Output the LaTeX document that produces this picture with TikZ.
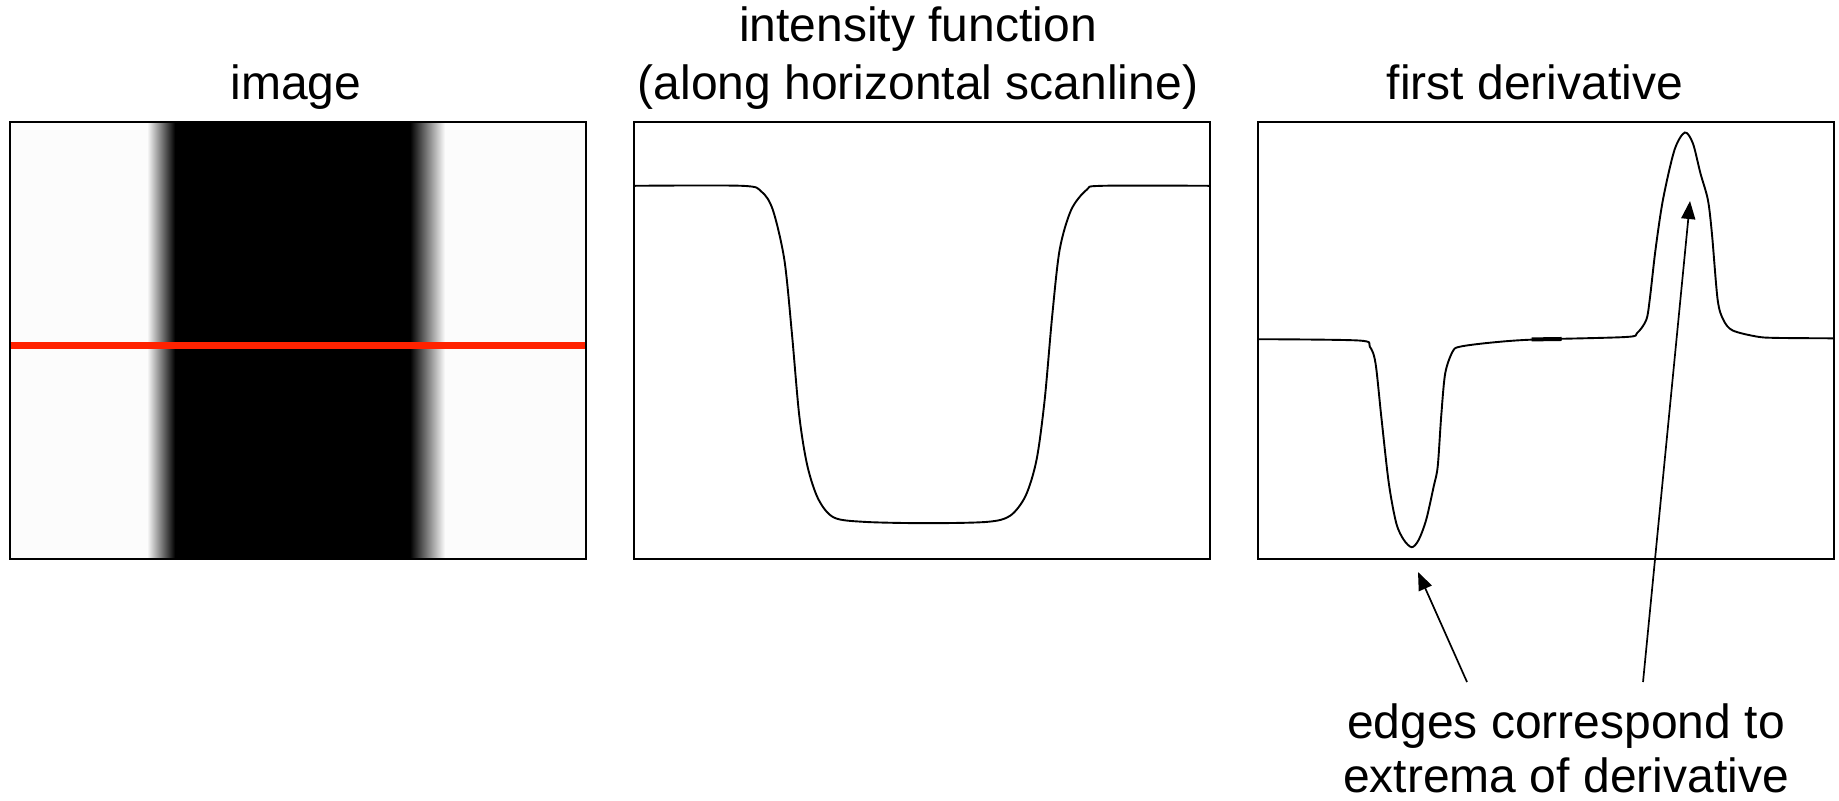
\documentclass[tikz,border=0pt]{standalone}
\usepackage{fontspec}
\setmainfont{Liberation Sans}
\usetikzlibrary{arrows.meta}
\definecolor{scanred}{RGB}{255,34,0}
\begin{document}
\begin{tikzpicture}[x=0.5pt, y=-0.5pt,
    panel/.style={draw=black, line width=1pt},
    curva/.style={line width=0.95pt, smooth, tension=0.5},
    titulo/.style={font=\fontsize{24}{29}\selectfont, anchor=base, inner sep=0pt, align=center},
    flecha/.style={line width=0.85pt, -{Triangle[length=9pt,width=7pt]}}]
    \useasboundingbox (0,0) rectangle (1839,800);

    % ~~~~ Imagen con la barra oscura ~~~~%
    \fill[black!1] (10,122) rectangle (586,559);
    \shade[left color=black!1, right color=black] (147,122) rectangle (175,559);
    \fill[black] (175,122) rectangle (410,559);
    \shade[left color=black, right color=black!1] (410,122) rectangle (445,559);
    \draw[scanred, line width=3.5pt] (10,345.5) -- (586,345.5);
    \draw[panel] (10,122) rectangle (586,559);

    % ~~~~ Funcion de intensidad ~~~~%
    \draw[panel] (634,122) rectangle (1210,559);
    \begin{scope}[shift={(634,122)}, xscale=5.76, yscale=4.37]
        \draw[curva] plot coordinates {(0,14.6) (18.75,14.6) (22.1,15.9) (24.1,20.1)
            (26.1,31.5) (27.4,48.2) (28.7,67.3) (30.1,78.7) (32.0,86.3) (34.7,90.5)
            (40.0,91.5) (50.7,91.8) (61.3,91.5) (65.3,90.1) (68.0,85.5) (69.9,77.2)
            (71.3,63.5) (72.6,44.4) (73.9,29.2) (75.9,20.1) (78.6,15.5) (81.25,14.6) (100,14.6)};
    \end{scope}

    % ~~~~ Primera derivada ~~~~%
    \draw[panel] (1258,122) rectangle (1834,559);
    \begin{scope}[shift={(1258,122)}, xscale=5.76, yscale=4.37]
        \draw[curva] plot coordinates {(0,49.7) (17.5,50.0) (19.4,51.4) (20.4,55.2)
            (21.4,67.4) (22.7,82.6) (24.0,91.8) (25.3,95.6) (26.7,97.3) (27.9,95.6)
            (29.2,91.0) (30.5,83.4) (31.2,78.8) (31.8,67.4) (32.5,57.5) (33.8,52.5)
            (35.1,51.4) (40.3,50.5) (47.5,49.8) (63.8,49.2) (65.8,48.3) (67.4,45.3)
            (68.0,40.7) (69.0,29.3) (70.3,17.8) (72.3,6.4) (74.1,2.4) (75.5,4.9)
            (76.8,11.7) (78.1,17.8) (78.8,25.5) (79.8,40.7) (80.8,45.3) (82.4,47.7)
            (86.6,49.1) (89.9,49.4) (100,49.5)};
        \draw[line width=2pt] (47.5,49.75) -- (52.7,49.65);
    \end{scope}

    % ~~~~ Titulos ~~~~%
    \node[titulo] (timagen) at (296,99) {image};
    \node[titulo] (tintens) at (918,99) {intensity function\\(along horizontal scanline)};
    \node[titulo] (tderiv) at (1535,99) {first derivative};

    % ~~~~ Nota y flechas a los extremos ~~~~%
    \node[titulo, font=\fontsize{24}{27}\selectfont] (nota) at (1566,792)
        {edges correspond to\\extrema of derivative};
    \coordinate (valle) at (1418,572);
    \coordinate (pico) at (1690,201);
    \coordinate (colaA) at (1467,682);
    \coordinate (colaB) at (1643,682);
    \draw[flecha] (colaA) -- (valle);
    \draw[flecha] (colaB) -- (pico);
\end{tikzpicture}
\end{document}
